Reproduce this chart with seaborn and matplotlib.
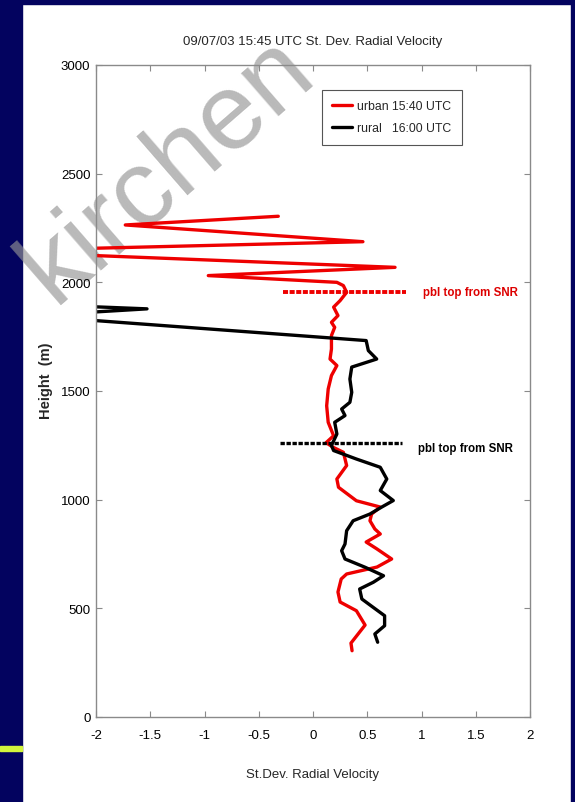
import matplotlib
matplotlib.use("Agg")
import matplotlib.pyplot as plt
from matplotlib.patches import Rectangle
from matplotlib.lines import Line2D
import seaborn as sns
import pandas as pd

# ---------------- data ----------------
urban_sd = [0.36, 0.35, 0.48, 0.40, 0.25, 0.23, 0.26, 0.31, 0.59, 0.725, 0.59, 0.49, 0.62, 0.57,
            0.525, 0.54, 0.62, 0.40, 0.235, 0.22, 0.31, 0.28, 0.19, 0.12, 0.19, 0.14, 0.126, 0.14,
            0.17, 0.22, 0.157, 0.17, 0.17, 0.20, 0.17, 0.23, 0.19, 0.25, 0.31, 0.28, 0.22,
            -0.965, 0.756, -3.07, 0.46, -1.73, -0.32]
urban_h = [305, 340, 423, 489, 529, 575, 635, 658, 690, 727, 773, 805, 842, 865,
           903, 934, 966, 995, 1057, 1095, 1157, 1218, 1240, 1262, 1294, 1356, 1432, 1509,
           1571, 1617, 1647, 1693, 1755, 1793, 1816, 1847, 1886, 1916, 1954, 1985, 2000,
           2031, 2069, 2144, 2187, 2264, 2304]

rural_sd = [0.596, 0.57, 0.66, 0.66, 0.556, 0.45, 0.43, 0.556, 0.65, 0.48, 0.295, 0.264, 0.295,
            0.31, 0.37, 0.525, 0.63, 0.74, 0.62, 0.68, 0.62, 0.40, 0.19, 0.17, 0.22, 0.20, 0.295,
            0.264, 0.34, 0.357, 0.34, 0.357, 0.587, 0.51, 0.49, -2.6, -1.53, -2.5]
rural_h = [344, 382, 420, 466, 504, 543, 589, 620, 650, 689, 727, 765, 796,
           857, 903, 934, 965, 996, 1042, 1095, 1149, 1187, 1226, 1249, 1302, 1356, 1387,
           1417, 1448, 1494, 1555, 1610, 1647, 1686, 1732, 1846, 1878, 1897]

pbl_urban_x = [-0.28, 0.86]
pbl_urban_h = [1956, 1956]
pbl_rural_x = [-0.304, 0.817]
pbl_rural_h = [1261, 1261]

series_labels = ["urban 15:40 UTC", "rural   16:00 UTC"]
xticks = [-2, -1.5, -1, -0.5, 0, 0.5, 1, 1.5, 2]
xtick_labels = ["-2", "-1.5", "-1", "-0.5", "0", "0.5", "1", "1.5", "2"]
yticks = [0, 500, 1000, 1500, 2000, 2500, 3000]
ytick_labels = ["0", "500", "1000", "1500", "2000", "2500", "3000"]

title = "09/07/03 15:45 UTC St. Dev. Radial Velocity"
xlabel = "St.Dev. Radial Velocity"
ylabel = "Height  (m)"
pbl_text = "pbl top from SNR"
watermark = "kirchen"

# ---------------- style ----------------
sns.set_theme(style="ticks")
plt.rcParams["font.family"] = ["Liberation Sans", "DejaVu Sans"]

W, H = 575, 803
fig = plt.figure(figsize=(W / 100, H / 100), dpi=100)
fig.patch.set_facecolor("white")

navy = "#03035f"
fig.patches.append(Rectangle((0, 0), 22 / W, 1, transform=fig.transFigure, color=navy, zorder=0))
fig.patches.append(Rectangle((0, 1 - 5 / H), 1, 5 / H, transform=fig.transFigure, color=navy, zorder=0))
fig.patches.append(Rectangle((571 / W, 0), 4 / W, 1, transform=fig.transFigure, color=navy, zorder=0))
fig.patches.append(Rectangle((0, 1 - 752 / H), 22 / W, 5 / H, transform=fig.transFigure,
                             color="#d2f53c", zorder=0.2))

fig.text(168 / W, 1 - 170 / H, watermark, rotation=41, ha="center", va="center",
         fontsize=78, color=(0.58, 0.58, 0.58), alpha=0.65, zorder=0.5)

ax = fig.add_axes([96 / W, 1 - 718 / H, 434 / W, 652 / H])
ax.set_zorder(1)
ax.set_facecolor("none")

df_u = pd.DataFrame({"sd": urban_sd, "h": urban_h})
df_r = pd.DataFrame({"sd": rural_sd, "h": rural_h})
lw = 2.4
sns.lineplot(data=df_u, x="sd", y="h", sort=False, estimator=None, color="#ee0000", lw=lw, ax=ax)
sns.lineplot(data=df_r, x="sd", y="h", sort=False, estimator=None, color="black", lw=lw, ax=ax)
sns.lineplot(x=pbl_urban_x, y=pbl_urban_h, sort=False, estimator=None, color="#ee0000", lw=2.8,
             ax=ax).lines[-1].set_dashes([1.3, 0.4])
sns.lineplot(x=pbl_rural_x, y=pbl_rural_h, sort=False, estimator=None, color="black", lw=2.4,
             ax=ax).lines[-1].set_dashes([1.3, 0.5])

ax.text(1.01, 1956, pbl_text, color="#dd0000", fontsize=8.3, ha="left", va="center", fontweight="bold")
ax.text(0.965, 1238, pbl_text, color="black", fontsize=8.3, ha="left", va="center", fontweight="bold")

ax.set_xlim(-2, 2)
ax.set_ylim(0, 3000)
ax.set_xticks(xticks)
ax.set_xticklabels(xtick_labels)
ax.set_yticks(yticks)
ax.set_yticklabels(ytick_labels)
ax.set_xlabel("")
ax.set_ylabel("")
for s in ax.spines.values():
    s.set_visible(True)
    s.set_color("#8a8a8a")
    s.set_linewidth(1.0)
ax.tick_params(direction="in", length=4, width=0.8, color="#8a8a8a", top=True, right=True,
               labelsize=9.5, labelcolor="black")
ax.tick_params(axis="x", pad=9)
ax.tick_params(axis="y", pad=4)

handles = [Line2D([], [], color="#ee0000", lw=2.4), Line2D([], [], color="black", lw=2.4)]
leg = ax.legend(handles, series_labels, loc="upper left",
                bbox_to_anchor=((322 - 96) / 434, 1 - (91 - 66) / 652),
                fontsize=8.8, frameon=True, fancybox=False, framealpha=1, edgecolor="#555555",
                handlelength=1.6, handletextpad=0.45, borderpad=0.85, labelspacing=0.8,
                borderaxespad=0)
leg.get_frame().set_linewidth(0.8)

fig.text(313 / W, 1 - 42 / H, title, ha="center", va="center", fontsize=9.5)
fig.text(313 / W, 1 - 775 / H, xlabel, ha="center", va="center", fontsize=9.5)
fig.text(46 / W, 1 - 381 / H, ylabel, ha="center", va="center", rotation=90, fontsize=10.5,
         fontweight="bold")

fig.savefig("out.png", dpi=100)
